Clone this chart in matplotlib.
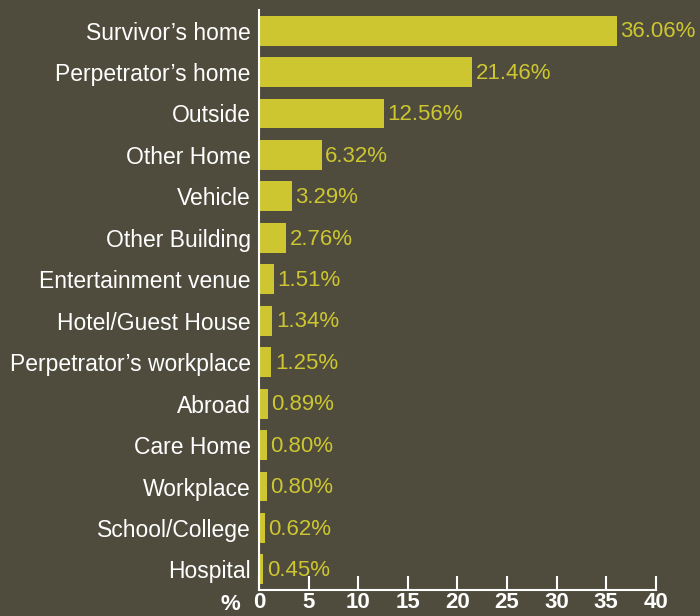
import matplotlib.pyplot as plt

# data
places = ["Survivor\u2019s home", "Perpetrator\u2019s home", "Outside", "Other Home",
          "Vehicle", "Other Building", "Entertainment venue", "Hotel/Guest House",
          "Perpetrator\u2019s workplace", "Abroad", "Care Home", "Workplace",
          "School/College", "Hospital"]
percent = [36.06, 21.46, 12.56, 6.32, 3.29, 2.76, 1.51, 1.34, 1.25, 0.89, 0.80, 0.80, 0.62, 0.45]
xticks = [0, 5, 10, 15, 20, 25, 30, 35, 40]

BG = "#4f4c3e"
BAR = "#cdc630"

plt.rcParams['font.family'] = ['Liberation Sans', 'DejaVu Sans']

fig = plt.figure(figsize=(7, 6.16), dpi=100, facecolor=BG)
ax = fig.add_axes([0.37, 0.042, 0.567, 0.942], facecolor=BG)

ypos = list(range(len(places)))
ax.barh(ypos, percent, height=0.72, color=BAR)
for y, v in zip(ypos, percent):
    ax.text(v + 0.35, y + 0.03, "{:.2f}%".format(v), color=BAR, fontsize=16,
            va="center", ha="left")

ax.set_ylim(13.5, -0.5)
ax.set_xlim(0, 40)
ax.set_yticks(ypos)
ax.set_yticklabels(places, color="white", fontsize=16.5)
ax.tick_params(axis="y", length=0, pad=6)
ax.set_xticks(xticks)
ax.set_xticklabels([str(t) for t in xticks], color="white", fontsize=16, fontweight="bold")
ax.tick_params(axis="x", direction="in", length=10, width=1.5, color="white", pad=1)

for s in ["top", "right"]:
    ax.spines[s].set_visible(False)
for s in ["left", "bottom"]:
    ax.spines[s].set_color("white")
    ax.spines[s].set_linewidth(1.5)

ax.text(-0.072, -0.024, "%", transform=ax.transAxes, color="white", fontsize=16,
        fontweight="bold", ha="center", va="center")

fig.savefig("out.png", dpi=100, facecolor=BG)
